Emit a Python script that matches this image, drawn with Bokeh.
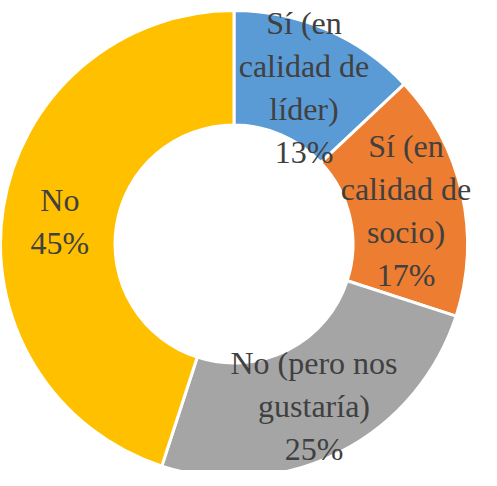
import math
from bokeh.plotting import figure
from bokeh.models import ColumnDataSource
from bokeh.core.properties import value
from bokeh.embed import file_html
from bokeh.resources import INLINE

categories = ["Sí (en\ncalidad de\nlíder)", "Sí (en\ncalidad de\nsocio)", "No (pero nos\ngustaría)", "No"]
shares = [13, 17, 25, 45]
colors = ["#5B9BD5", "#ED7D31", "#A5A5A5", "#FFC000"]

# style / geometry
R_OUT = 233.5
R_IN = 119
LINE_H = 43
LABEL_DY = 5  # px downward nudge of label blocks

total = sum(shares)
starts, ends = [], []
tx, ty, toff, ttext = [], [], [], []
cum = 0.0
r_mid = (R_OUT + R_IN) / 2
for cat, s in zip(categories, shares):
    c0 = cum / total
    c1 = (cum + s) / total
    starts.append(math.pi / 2 - 2 * math.pi * c1)
    ends.append(math.pi / 2 - 2 * math.pi * c0)
    mid = (c0 + c1) / 2 * 2 * math.pi
    cx = r_mid * math.sin(mid)
    cy = r_mid * math.cos(mid)
    lines = cat.split("\n") + [f"{s}%"]
    n = len(lines)
    for i, ln in enumerate(lines):
        tx.append(cx)
        ty.append(cy)
        toff.append((i - (n - 1) / 2) * LINE_H + LABEL_DY)
        ttext.append(ln)
    cum += s

wedges = ColumnDataSource(dict(start=starts, end=ends, color=colors))
texts = ColumnDataSource(dict(x=tx, y=ty, off=toff, text=ttext))

p = figure(width=481, height=470, x_range=(-233.5, 247.5), y_range=(-226.5, 243.5),
           output_backend="svg", toolbar_location=None, min_border=0)
p.axis.visible = False
p.grid.visible = False
p.outline_line_color = None
p.background_fill_color = "white"

p.annular_wedge(x=0, y=0, inner_radius=R_IN, outer_radius=R_OUT,
                start_angle="start", end_angle="end", fill_color="color",
                line_color="white", line_width=3, source=wedges)

p.text(x="x", y="y", y_offset="off", text="text", source=texts, text_align="center",
       text_baseline="middle", text_font=value("Liberation Serif"),
       text_font_size="32px", text_color="#404040")

open("out.html", "w").write(file_html(p, INLINE))
